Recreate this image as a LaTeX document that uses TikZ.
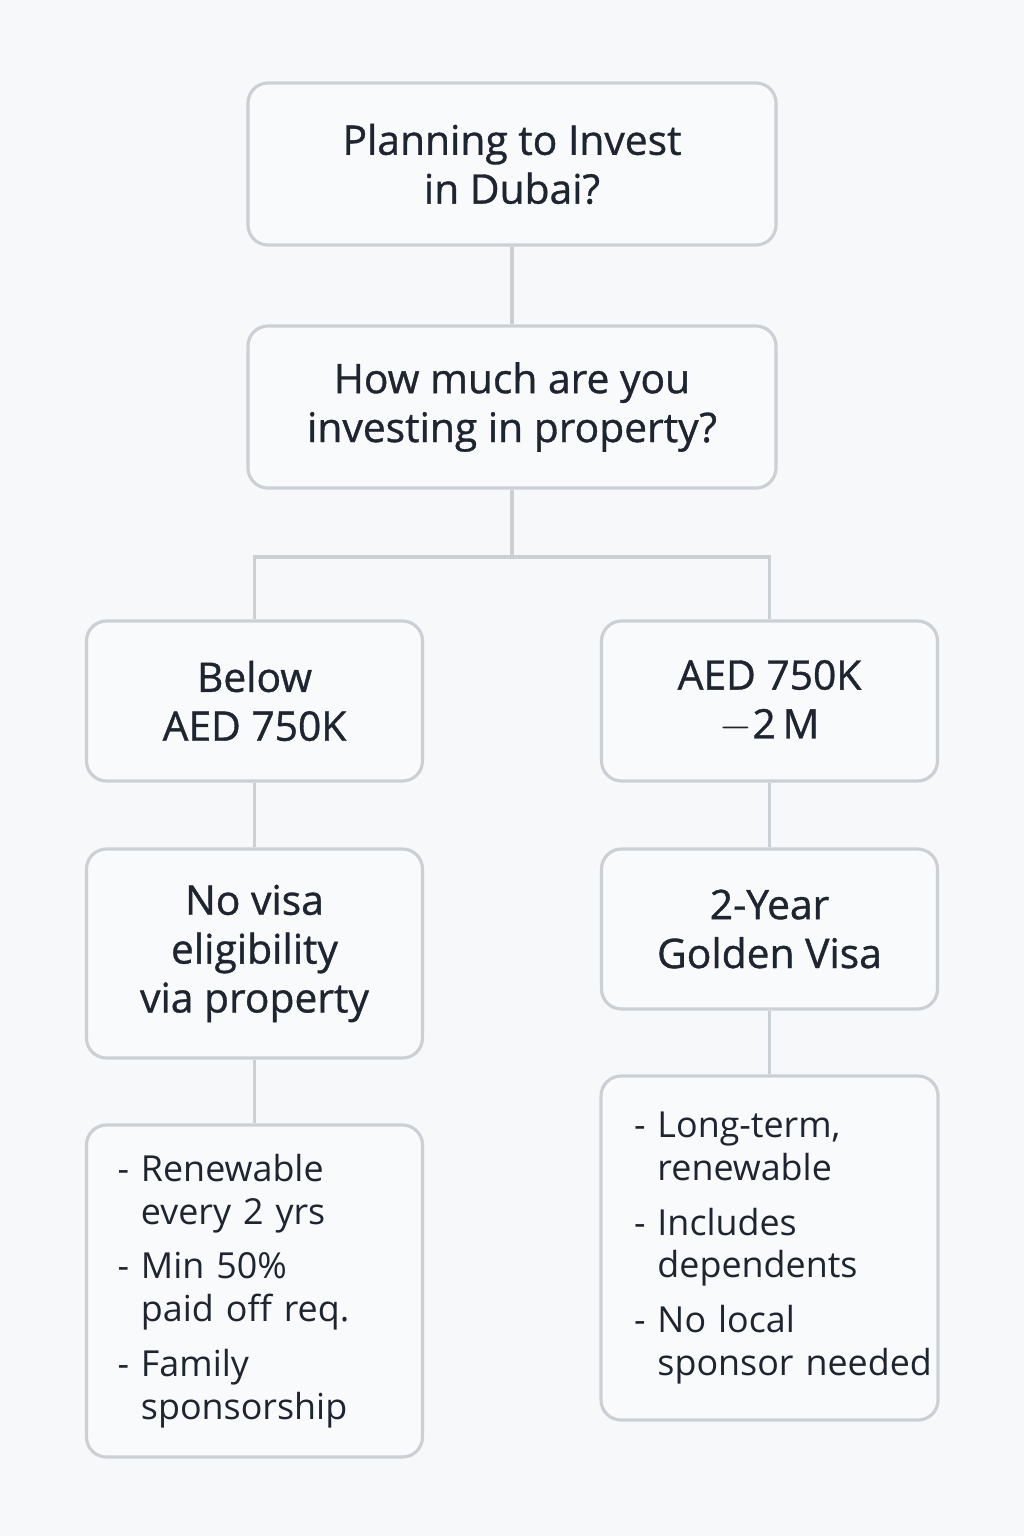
\documentclass[tikz,border=0pt]{standalone}
\usepackage{fontspec}
\setmainfont{Open Sans}
\newfontfamily\titlefont[FakeBold=0.9]{Open Sans}
\usetikzlibrary{positioning}
\definecolor{paper}{HTML}{F7F8FA}
\definecolor{boxfill}{HTML}{F9FAFB}
\definecolor{boxedge}{HTML}{CBD0D5}
\definecolor{ink}{HTML}{1E2530}
\pgfdeclarelayer{background}
\pgfsetlayers{background,main}
\tikzstyle{box} = [draw=boxedge, fill=boxfill, line width=0.9pt, rounded corners=0.2cm, align=center, text=ink, font=\titlefont\fontsize{11.6}{13.9}\selectfont]
\tikzstyle{list box} = [box, align=left, font=\fontsize{10.2}{12.2}\selectfont]
\tikzstyle{link} = [draw=boxedge, line width=0.9pt, -]
\newcommand{\gap}{\\[0.12cm]}
\newcommand{\hang}{\hphantom{-\ }}

\begin{document}
\begin{tikzpicture}
    \begin{pgfonlayer}{background}
      \fill[paper] (0,0) rectangle (10.24,-15.36);
    \end{pgfonlayer}
    \useasboundingbox (0,0) rectangle (10.24,-15.36);

    \node[box, minimum width=5.28cm, minimum height=1.62cm] (plan) at (5.12,-1.64) {Planning to Invest\\in Dubai?};
    \node[box, minimum width=5.28cm, minimum height=1.62cm] (amount) at (5.12,-4.07) {How much are you\\investing in property?};

    \node[box, minimum width=3.36cm, minimum height=1.60cm] (below) at (2.545,-7.01) {Below\\AED 750K};
    \node[box, minimum width=3.36cm, minimum height=1.60cm] (range) at (7.695,-7.01) {AED 750K\\$-$2\,M};

    \node[box, minimum width=3.36cm, minimum height=2.09cm] (novisa) at (2.545,-9.535) {No visa\\eligibility\\via property};
    \node[box, minimum width=3.36cm, minimum height=1.60cm] (golden) at (7.695,-9.29) {2-Year\\Golden Visa};

    \node[list box, inner xsep=0.31cm, text width=2.74cm, minimum height=3.32cm] (perksL) at (2.545,-12.91)
        {- Renewable\\\hang every 2 yrs\gap - Min 50\%\\\hang paid off req.\gap - Family\\\hang sponsorship};
    \node[list box, inner xsep=0.33cm, text width=2.71cm, minimum height=3.44cm] (perksR) at (7.695,-12.48)
        {- Long-term,\\\hang renewable\gap - Includes\\\hang dependents\gap - No local\\\hang \mbox{sponsor needed}};

    \coordinate (fork) at (5.12,-5.57);

    \begin{pgfonlayer}{background}
      \path[link] (amount) -- (fork);
      \path[link] (below.north) |- (fork) -| (range.north);
      \foreach \source/\sink in {plan/amount, below/novisa, novisa/perksL, range/golden, golden/perksR}
          \path[link] (\source) -- (\sink);
    \end{pgfonlayer}
\end{tikzpicture}
\end{document}
